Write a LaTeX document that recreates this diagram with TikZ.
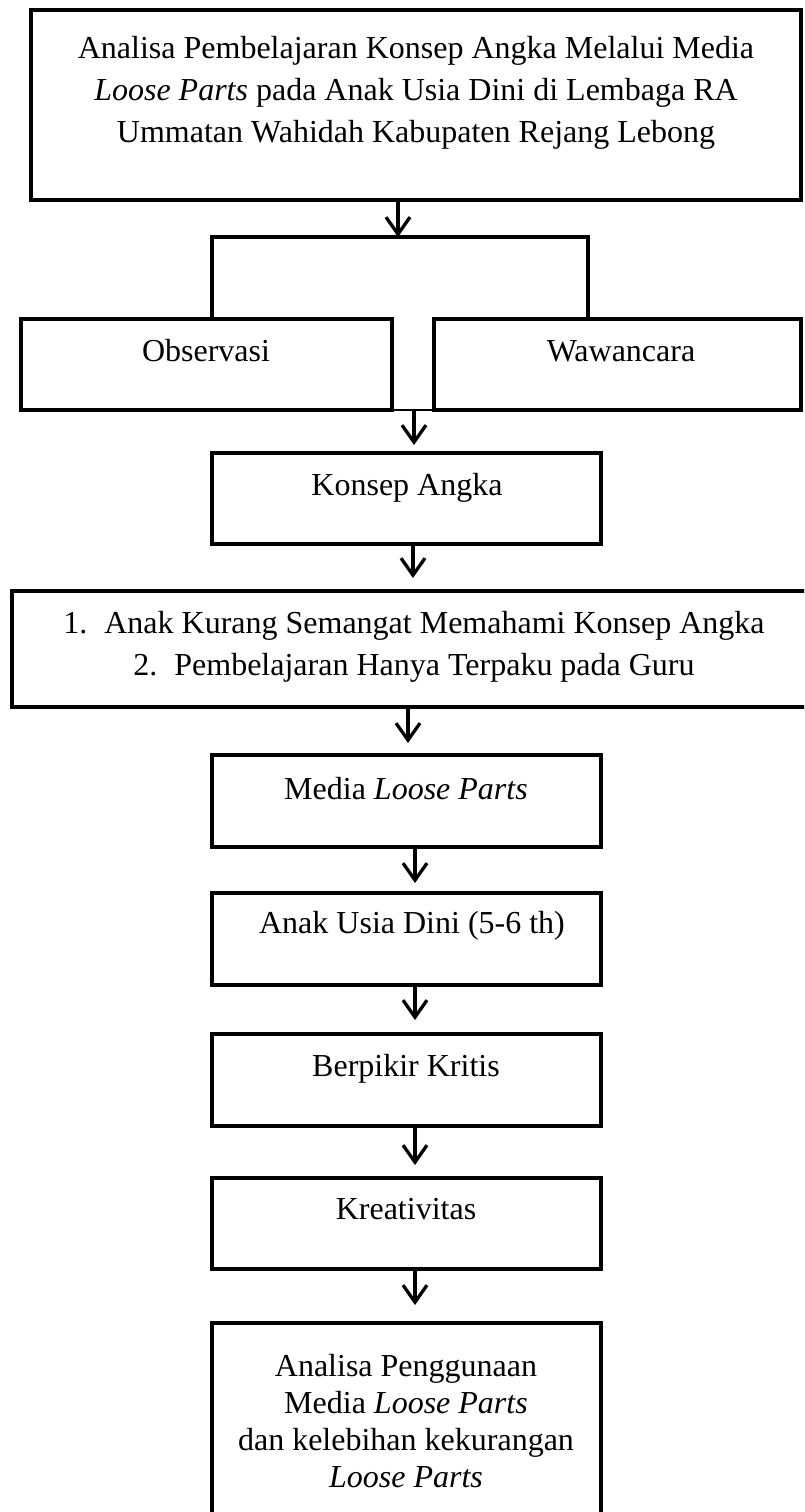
\documentclass[tikz,border=0pt]{standalone}
\usepackage{fontspec}
\setmainfont{Liberation Serif}
\usetikzlibrary{arrows.meta}
\begin{document}
\begin{tikzpicture}[x=1pt,y=-1pt,
  box/.style={draw, line width=4.5pt, rectangle, inner sep=0pt, outer sep=0pt},
  txt/.style={font=\fontsize{32}{42}\selectfont, inner sep=0pt, anchor=base, align=center},
  txtb/.style={font=\fontsize{32}{36.7}\selectfont, inner sep=0pt, anchor=base, align=center},
  arr/.style={line width=3.3pt, -{Straight Barb[length=17pt,width=24pt,line width=3.3pt]}},
  brk/.style={line width=3.3pt}]
\useasboundingbox (0,0) rectangle (804,1512);
\clip (0,0) rectangle (804,1512);
\fill[white] (0,0) rectangle (804,1512);
% boxes
\node[box, minimum width=770pt, minimum height=190pt] (title) at (416,105) {};
\node[box, minimum width=371pt, minimum height=91pt] (obs) at (206.5,364.5) {};
\node[box, minimum width=367pt, minimum height=91pt] (waw) at (617.5,364.5) {};
\node[box, minimum width=389pt, minimum height=91pt] (konsep) at (406.5,498.5) {};
\node[box, minimum width=808pt, minimum height=116pt] (masalah) at (416,649) {};
\node[box, minimum width=389pt, minimum height=92pt] (media) at (406.5,801) {};
\node[box, minimum width=389pt, minimum height=92pt] (anak) at (406.5,939) {};
\node[box, minimum width=389pt, minimum height=92pt] (berpikir) at (406.5,1080) {};
\node[box, minimum width=389pt, minimum height=91pt] (kreatif) at (406.5,1223.5) {};
\node[box, minimum width=389pt, minimum height=237pt] (akhir) at (406.5,1441.5) {};
% texts (multi-line nodes: base = last line's baseline)
\node[txt] (titleT) at (416,142) {Analisa Pembelajaran Konsep Angka Melalui Media\\ \textit{Loose Parts} pada Anak Usia Dini di Lembaga RA\\ Ummatan Wahidah Kabupaten Rejang Lebong};
\node[txt] (obsT) at (206,361) {Observasi};
\node[txt] (wawT) at (621,361) {Wawancara};
\node[txt] (konsepT) at (407,495) {Konsep Angka};
\node[txt] (masalahT) at (414,675) {1.\hspace{17pt}Anak Kurang Semangat Memahami Konsep Angka\\ 2.\hspace{17pt}Pembelajaran Hanya Terpaku pada Guru};
\node[txt] (mediaT) at (406,799) {Media \textit{Loose Parts}};
\node[txt] (anakT) at (412,933) {Anak Usia Dini (5-6 th)};
\node[txt] (berpikirT) at (406,1076) {Berpikir Kritis};
\node[txt] (kreatifT) at (406,1219) {Kreativitas};
\node[txtb] (akhirT) at (406,1487) {Analisa Penggunaan\\ Media \textit{Loose Parts}\\ dan kelebihan kekurangan\\ \textit{Loose Parts}};
% bracket
\coordinate (bl) at (212,237);
\coordinate (br) at (588,237);
\coordinate (a1) at (398,237);
\draw[brk] (obs.north -| bl) -- (bl) -- (br) -- (waw.north -| br);
\draw[arr] (title.south -| a1) -- (a1);
\draw[line width=2pt] (obs.south east) -- ([xshift=9pt]waw.south west);
\coordinate (j) at (414,410);
\draw[arr, shorten >=8pt] (j) -- (konsep.north -| j);
\draw[arr, shorten >=13pt] ([xshift=6.5pt]konsep.south) -- ([xshift=6.5pt]konsep.south |- masalah.north);
\draw[arr, shorten >=12pt] ([xshift=1.5pt]konsep.south |- masalah.south) -- ([xshift=1.5pt]media.north);
\draw[arr, shorten >=10pt] ([xshift=8.5pt]media.south) -- ([xshift=8.5pt]anak.north);
\draw[arr, shorten >=14pt] ([xshift=8.5pt]anak.south) -- ([xshift=8.5pt]berpikir.north);
\draw[arr, shorten >=13pt] ([xshift=8.5pt]berpikir.south) -- ([xshift=8.5pt]kreatif.north);
\draw[arr, shorten >=18pt] ([xshift=8.5pt]kreatif.south) -- ([xshift=8.5pt]akhir.north);
\end{tikzpicture}
\end{document}
